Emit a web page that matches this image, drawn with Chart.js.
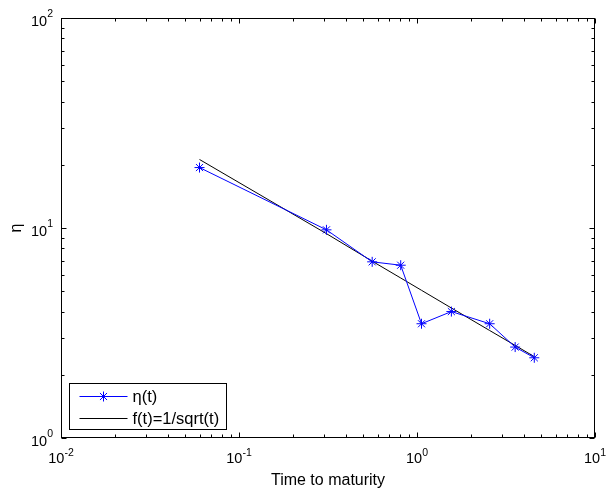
<!DOCTYPE html>
<html>
<head>
<meta charset="utf-8">
<script src="https://cdn.jsdelivr.net/npm/chart.js@4.4.0/dist/chart.umd.min.js"></script>
<style>
  html, body { margin: 0; padding: 0; background: #fff; }
  canvas { display: block; }
</style>
</head>
<body>
<canvas id="chart" width="606" height="493"></canvas>
<script>
// data
const maturities = [0.06, 0.31, 0.56, 0.81, 1.06, 1.56, 2.56, 3.56, 4.56];
const etaValues  = [19.4, 9.8, 6.9, 6.65, 3.5, 4.0, 3.5, 2.71, 2.41];
const fitValues  = [21.2, 9.4, 6.95, 5.78, 5.05, 4.16, 3.25, 2.76, 2.44];
const xTickExponents = [-2, -1, 0, 1];
const yTickExponents = [0, 1, 2];
const legendLabels = ['η(t)', 'f(t)=1/sqrt(t)'];
const xTitle = 'Time to maturity';
const yTitle = 'η';

const FONT = "'Liberation Sans', Arial, sans-serif";
const BLUE = '#0000ff';

function pairs(xs, ys) {
    return xs.map((x, i) => ({ x: x, y: ys[i] }));
}

// draws "10" with a raised exponent, anchored by align ('center' or 'right')
function drawPower(ctx, exp, x, baseY, supY, align) {
    const base = '10', sup = String(exp);
    ctx.font = '14.5px ' + FONT;
    const wb = ctx.measureText(base).width;
    ctx.font = '10.5px ' + FONT;
    const ws = ctx.measureText(sup).width;
    const total = wb + ws;
    let left = align === 'center' ? x - total / 2 : x - total;
    ctx.textAlign = 'left';
    ctx.textBaseline = 'alphabetic';
    ctx.font = '14.5px ' + FONT;
    ctx.fillText(base, left, baseY);
    ctx.font = '10.5px ' + FONT;
    ctx.fillText(sup, left + wb, supY);
}

// MATLAB-like box, inward ticks on all sides, labels and inner legend
const axesDecor = {
    id: 'axesDecor',
    afterDraw(chart) {
        const { ctx, chartArea: a, scales } = chart;
        const xs = scales.x, ys = scales.y;
        const L = Math.round(a.left) + 0.5, R = Math.round(a.right) - 0.5;
        const T = Math.round(a.top) + 0.5, B = Math.round(a.bottom) - 0.5;
        ctx.save();
        ctx.strokeStyle = '#000';
        ctx.fillStyle = '#000';
        ctx.lineWidth = 1;
        ctx.strokeRect(L, T, R - L, B - T);

        // ticks
        ctx.beginPath();
        for (let e = xTickExponents[0]; e <= xTickExponents[xTickExponents.length - 1]; e++) {
            for (let m = 1; m <= 9; m++) {
                if (e === xTickExponents[xTickExponents.length - 1] && m > 1) break;
                const px = Math.round(xs.getPixelForValue(m * Math.pow(10, e))) + 0.5;
                const len = m === 1 ? 5 : 3;
                ctx.moveTo(px, B); ctx.lineTo(px, B - len);
                ctx.moveTo(px, T); ctx.lineTo(px, T + len);
            }
        }
        for (let e = yTickExponents[0]; e <= yTickExponents[yTickExponents.length - 1]; e++) {
            for (let m = 1; m <= 9; m++) {
                if (e === yTickExponents[yTickExponents.length - 1] && m > 1) break;
                const py = Math.round(ys.getPixelForValue(m * Math.pow(10, e))) + 0.5;
                const len = m === 1 ? 5 : 3;
                ctx.moveTo(L, py); ctx.lineTo(L + len, py);
                ctx.moveTo(R, py); ctx.lineTo(R - len, py);
            }
        }
        ctx.stroke();

        // tick labels
        xTickExponents.forEach(e => {
            const px = xs.getPixelForValue(Math.pow(10, e));
            drawPower(ctx, e, px, a.bottom + 25, a.bottom + 18, 'center');
        });
        yTickExponents.forEach(e => {
            const py = ys.getPixelForValue(Math.pow(10, e));
            drawPower(ctx, e, a.left - 8, py + 8, py - 1.5, 'right');
        });

        // axis titles
        ctx.font = '16px ' + FONT;
        ctx.textAlign = 'center';
        ctx.textBaseline = 'alphabetic';
        ctx.fillText(xTitle, (a.left + a.right) / 2, 485);
        ctx.save();
        ctx.translate(17, (a.top + a.bottom) / 2);
        ctx.rotate(-Math.PI / 2);
        ctx.textBaseline = 'middle';
        ctx.fillText(yTitle, 0, 0);
        ctx.restore();

        // legend box
        const bx = a.left + 8.5, by = a.bottom - 54.5, bw = 157, bh = 46;
        ctx.fillStyle = '#fff';
        ctx.fillRect(bx, by, bw, bh);
        ctx.strokeStyle = '#000';
        ctx.strokeRect(bx, by, bw, bh);
        const rows = [by + 13, by + 35];
        const colors = [BLUE, '#000'];
        rows.forEach((ry, i) => {
            ctx.strokeStyle = colors[i];
            ctx.beginPath();
            ctx.moveTo(bx + 10, ry); ctx.lineTo(bx + 58, ry);
            ctx.stroke();
            if (i === 0) {
                Chart.helpers.drawPoint(ctx, { pointStyle: 'star', radius: 5, borderWidth: 1 }, bx + 34, ry);
            }
            ctx.fillStyle = '#000';
            ctx.font = '16.5px ' + FONT;
            ctx.textAlign = 'left';
            ctx.textBaseline = 'middle';
            ctx.fillText(legendLabels[i], bx + 63, ry + 1);
        });
        ctx.restore();
    }
};

new Chart(document.getElementById('chart'), {
    type: 'line',
    data: {
        datasets: [{
            label: legendLabels[0],
            data: pairs(maturities, etaValues),
            borderColor: BLUE,
            backgroundColor: BLUE,
            borderWidth: 1,
            pointStyle: 'star',
            pointRadius: 5,
            pointBorderWidth: 1,
            pointBorderColor: BLUE,
            tension: 0
        }, {
            label: legendLabels[1],
            data: pairs(maturities, fitValues),
            borderColor: '#000',
            borderWidth: 1,
            pointRadius: 0,
            tension: 0
        }]
    },
    options: {
        responsive: false,
        animation: false,
        devicePixelRatio: 1,
        layout: { padding: { left: 61, top: 18, right: 11, bottom: 55 } },
        plugins: { legend: { display: false }, tooltip: { enabled: false } },
        scales: {
            x: { type: 'logarithmic', min: 0.01, max: 10, display: false },
            y: { type: 'logarithmic', min: 1, max: 100, display: false }
        }
    },
    plugins: [axesDecor]
});
</script>
</body>
</html>
